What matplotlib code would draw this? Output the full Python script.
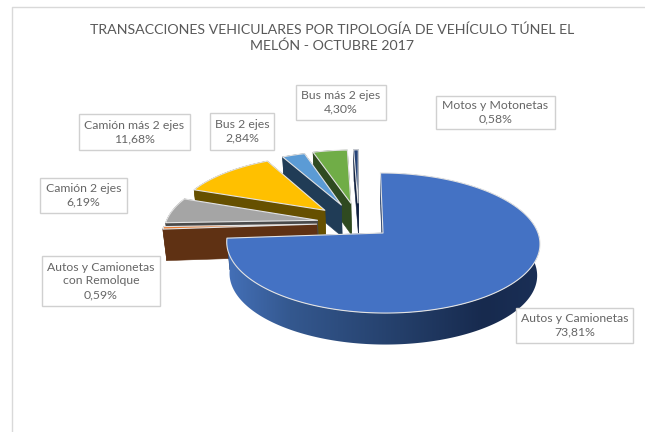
import numpy as np
import matplotlib
matplotlib.use("Agg")
import matplotlib.pyplot as plt
from matplotlib.patches import Polygon, Rectangle
from matplotlib.colors import to_rgb

title = "TRANSACCIONES VEHICULARES POR TIPOLOGÍA DE VEHÍCULO TÚNEL EL\nMELÓN - OCTUBRE 2017"
categories = ["Autos y Camionetas", "Autos y Camionetas\ncon Remolque", "Camión 2 ejes",
              "Camión más 2 ejes", "Bus 2 ejes", "Bus más 2 ejes", "Motos y Motonetas"]
values = [73.81, 0.59, 6.19, 11.68, 2.84, 4.30, 0.58]
value_labels = ["73,81%", "0,59%", "6,19%", "11,68%", "2,84%", "4,30%", "0,58%"]
explode = [0.216, 0.276, 0.276, 0.305, 0.31, 0.32, 0.32]
top_colors = ["#4472C4", "#ED7D31", "#A5A5A5", "#FFC000", "#5B9BD5", "#70AD47", "#264478"]
wall_colors = ["#1F3864", "#5F3113", "#4A4A4A", "#665000", "#203C56", "#2F4A20", "#10203F"]
label_boxes = [(516, 308, 633, 343), (42, 256, 160, 306), (40, 178, 127, 213),
               (79, 114, 190, 150), (210, 113, 274, 150), (296, 85, 386, 120), (436, 96, 555, 129)]

plt.rcParams["font.family"] = ["Lato", "DejaVu Sans"]
fig = plt.figure(figsize=(6.45, 4.32), dpi=100)
ax = fig.add_axes([0, 0, 1, 1])
ax.set_xlim(0, 645)
ax.set_ylim(432, 0)
ax.axis("off")

# projection of the tilted pie onto the page
AX0, AY0 = 383, 233
SX, SY, K, SHEAR, DEPTH, SHRINK = 155, 68.6, 0.143, -2.5, 31.5, 0.018


def project(x, y, z=0.0):
    x, y = np.asarray(x, float), np.asarray(y, float)
    den = 1 + K * y
    px = (SX * x / den + SHEAR * y) * (1 - SHRINK * z)
    py = -SY * y / den + DEPTH * z
    return np.column_stack([AX0 + px, AY0 + py])


fracs = np.array(values) / sum(values) * 2 * np.pi
starts = np.concatenate([[0], np.cumsum(fracs)[:-1]])
mid0 = starts[0] + fracs[0] / 2
cx, cy = -explode[0] * np.sin(mid0), -explode[0] * np.cos(mid0)

# ordered far to near so that near slices cover far ones
for i in [6, 5, 4, 3, 2, 1, 0]:
    a0, a1 = starts[i], starts[i] + fracs[i]
    mid = (a0 + a1) / 2
    ox = cx + explode[i] * np.sin(mid)
    oy = cy + explode[i] * np.cos(mid)
    th = np.linspace(a0, a1, max(int(fracs[i] * 90), 6))
    ex, ey = ox + np.sin(th), oy + np.cos(th)
    top = project(ex, ey, 0)
    bot = project(ex, ey, 1)
    apex_t = project([ox], [oy], 0)[0]
    apex_b = project([ox], [oy], 1)[0]
    z = 2 + 7 - i

    for p, q, pb, qb in [(apex_t, top[0], apex_b, bot[0]), (apex_t, top[-1], apex_b, bot[-1])]:
        ax.add_patch(Polygon([p, q, qb, pb], closed=True, fc=wall_colors[i], ec=wall_colors[i], lw=0.4, zorder=z))

    if i == 0:
        # the curved wall is shaded from left to right, painted as one image-like strip
        xmin, xmax = top[:, 0].min(), top[:, 0].max()
        stops = [(0.0, "#4470B8"), (0.2, "#34588F"), (0.55, "#243F6A"), (0.82, "#172A4E"), (1.0, "#1A2F56")]
        sp, sc = zip(*stops)
        sc = np.array([to_rgb(c) for c in sc])
        wall = Polygon(np.vstack([top, bot[::-1]]), closed=True, fc="none", ec="none", zorder=z)
        ax.add_patch(wall)
        t = np.linspace(0, 1, 256)
        grad = np.stack([np.interp(t, sp, sc[:, n]) for n in range(3)], axis=-1)[None, :, :]
        img = ax.imshow(grad, extent=[xmin, xmax, bot[:, 1].max() + 1, top[:, 1].min()],
                        aspect="auto", zorder=z, interpolation="bilinear")
        img.set_clip_path(wall)
        ax.set_xlim(0, 645)
        ax.set_ylim(432, 0)
    else:
        ax.add_patch(Polygon(np.vstack([top, bot[::-1]]), closed=True, fc=wall_colors[i],
                             ec=wall_colors[i], lw=0.4, zorder=z))
    ax.add_patch(Polygon(np.vstack([apex_t, top]), closed=True, fc=top_colors[i], ec="#E3E3E3",
                         lw=0.8, joinstyle="round", zorder=z + 0.5))

# chart frame, only the sides that are visible
ax.plot([11.5, 11.5, 645], [432, 7, 7], color="#D9D9D9", lw=1, zorder=1)

ax.text(332, 38, title, ha="center", va="center", fontsize=10.15, color="#595959",
        linespacing=1.32, zorder=20)

for name, val, (x0, y0, x1, y1) in zip(categories, value_labels, label_boxes):
    ax.add_patch(Rectangle((x0, y0), x1 - x0, y1 - y0, fc="white", ec="#D0D0D0", lw=1, zorder=18))
    ax.text((x0 + x1) / 2, (y0 + y1) / 2, f"{name}\n{val}", ha="center", va="center",
            fontsize=8.8, color="#666666", linespacing=1.3, zorder=20)

fig.savefig("out.png", dpi=100, facecolor="white")
